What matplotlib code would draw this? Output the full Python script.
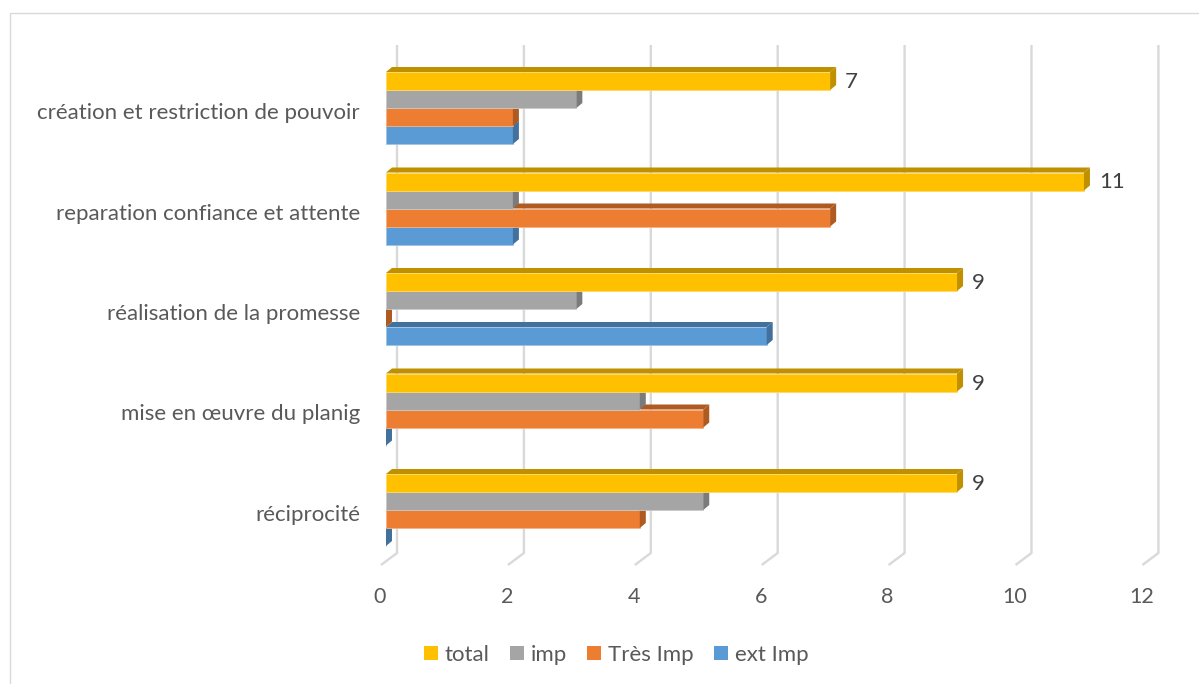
import matplotlib
matplotlib.use("Agg")
import matplotlib.pyplot as plt
from matplotlib.patches import Polygon, Rectangle, Patch

# Data
categories = [
    "création et restriction de pouvoir",
    "reparation confiance et attente",
    "réalisation de la promesse",
    "mise en œuvre du planig",
    "réciprocité",
]
series_names = ["total", "imp", "Très Imp", "ext Imp"]
total = [7, 11, 9, 9, 9]
imp = [3, 2, 3, 4, 5]
tres_imp = [2, 7, 0, 5, 4]
ext_imp = [2, 2, 6, 0, 0]
x_ticks = [0, 2, 4, 6, 8, 10, 12]

series_values = [total, imp, tres_imp, ext_imp]
front_colors = ["#FFC000", "#A5A5A5", "#ED7D31", "#5B9BD5"]
shade_colors = ["#BF9000", "#7B7B7B", "#AE5A21", "#41719C"]
edge_colors = ["#FFD966", "#C9C9C9", "#F4B183", "#9DC3E6"]

FONT = "Lato"
TXT = "#595959"

W, H = 1199, 684
fig = plt.figure(figsize=(W / 100, H / 100), dpi=100)
ax = fig.add_axes([0, 0, 1, 1])

ppu = 63.45      # pixels per value unit
origin = 386     # pixel column of value 0 on the bar fronts
ax.set_xlim(-origin / ppu, (W - origin) / ppu)
ax.set_ylim(H, 0)
ax.axis("off")

# chart frame
fig.patches.append(Rectangle((9.5 / W, -0.1), 1.2, 1 - 13 / H + 0.1,
                             transform=fig.transFigure, fill=False,
                             edgecolor="#D9D9D9", lw=1.0))

# 3D depth of bars and back wall
bdx, bdy = 6 / ppu, 5
gdx = 11 / ppu

# gridlines on the back wall with a slanted floor segment
for t in x_ticks:
    ax.plot([t + gdx, t + gdx, t - 5 / ppu], [45, 553, 565],
            color="#D9D9D9", lw=1.7, zorder=1, solid_capstyle="butt")
    ax.text(t - 6 / ppu, 597, str(t), ha="center", va="center",
            fontsize=15.5, color=TXT, family=FONT)

bar_h = 18
group_step = 100.5
first_top = 72

for i, cat in enumerate(categories):
    gtop = first_top + i * group_step
    # bottom series first so upper bars cover the lower top faces
    for j in range(3, -1, -1):
        v = series_values[j][i]
        top = gtop + j * bar_h
        bot = top + bar_h
        z = 5 + (3 - j)
        ax.barh((top + bot) / 2, v, height=bar_h, left=0,
                color=front_colors[j], edgecolor=edge_colors[j],
                linewidth=0.6, zorder=z)
        ax.add_patch(Polygon([(0, top), (bdx, top - bdy), (v + bdx, top - bdy), (v, top)],
                             closed=True, facecolor=shade_colors[j],
                             edgecolor="none", zorder=z))
        ax.add_patch(Polygon([(v, top), (v + bdx, top - bdy), (v + bdx, bot - bdy), (v, bot)],
                             closed=True, facecolor=shade_colors[j],
                             edgecolor="none", zorder=z))
    # value label on the total bar
    ax.text(total[i] + 15 / ppu, gtop + bar_h / 2 + 1, str(total[i]),
            ha="left", va="center", fontsize=16, color="#404040",
            family=FONT, zorder=20)
    # category label
    ax.text((360 - origin) / ppu, gtop + 2 * bar_h + 5, cat,
            ha="right", va="center", fontsize=16, color=TXT, family=FONT)

handles = [Patch(facecolor=c, edgecolor="none") for c in front_colors]
fig.legend(handles, series_names, loc="center",
           bbox_to_anchor=(616 / W, 1 - 655 / H), ncol=4, frameon=False,
           handlelength=0.63, handleheight=0.63, handletextpad=0.32,
           columnspacing=0.9, prop={"family": FONT, "size": 16},
           labelcolor=TXT)

fig.savefig("out.png", dpi=100)
